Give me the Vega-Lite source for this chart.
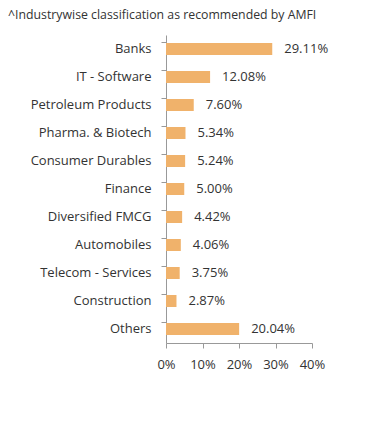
{
  "$schema": "https://vega.github.io/schema/vega-lite/v6.json",
  "autosize": "none",
  "width": 146,
  "height": 308,
  "padding": {"left": 166, "top": 35, "right": 80, "bottom": 90},
  "background": "white",
  "title": {"text": "^Industrywise classification as recommended by AMFI", "anchor": "start", "frame": "group", "dx": -158, "offset": 14, "fontSize": 12.3, "font": "Open Sans", "fontWeight": "normal", "color": "#333333"},
  "config": {"view": {"stroke": null}, "font": "Open Sans"},
  "data": {"values": [
    {"industry": "Banks", "pct": 29.11, "label": "29.11%"},
    {"industry": "IT - Software", "pct": 12.08, "label": "12.08%"},
    {"industry": "Petroleum Products", "pct": 7.60, "label": "7.60%"},
    {"industry": "Pharma. & Biotech", "pct": 5.34, "label": "5.34%"},
    {"industry": "Consumer Durables", "pct": 5.24, "label": "5.24%"},
    {"industry": "Finance", "pct": 5.00, "label": "5.00%"},
    {"industry": "Diversified FMCG", "pct": 4.42, "label": "4.42%"},
    {"industry": "Automobiles", "pct": 4.06, "label": "4.06%"},
    {"industry": "Telecom - Services", "pct": 3.75, "label": "3.75%"},
    {"industry": "Construction", "pct": 2.87, "label": "2.87%"},
    {"industry": "Others", "pct": 20.04, "label": "20.04%"}
  ]},
  "encoding": {
    "y": {"field": "industry", "type": "nominal", "sort": null,
      "scale": {"paddingInner": 0.57, "paddingOuter": 0.285},
      "axis": {"title": null, "bandPosition": 0, "tickSize": 5, "labelPadding": 10, "labelFontSize": 13, "labelColor": "#333333", "domainColor": "#999999", "tickColor": "#999999"}},
    "x": {"field": "pct", "type": "quantitative",
      "scale": {"domain": [0, 40]},
      "axis": {"title": null, "values": [0, 10, 20, 30, 40], "labelExpr": "datum.value + '%'", "labelOverlap": false, "labelFlush": false, "grid": false, "tickSize": 5, "labelPadding": 10, "labelFontSize": 13, "labelColor": "#333333", "domainColor": "#999999", "tickColor": "#999999"}}
  },
  "layer": [
    {"mark": {"type": "bar", "color": "#F0B26B"}},
    {"mark": {"type": "text", "align": "left", "dx": 12, "fontSize": 13, "color": "#333333"},
     "encoding": {"text": {"field": "label", "type": "nominal"}}}
  ]
}
